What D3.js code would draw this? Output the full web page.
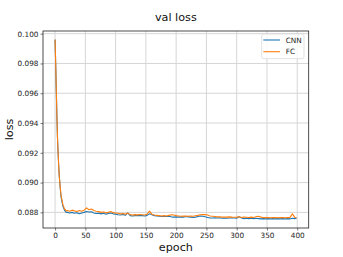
<!DOCTYPE html>
<html>
<head>
<meta charset="utf-8">
<script src="https://cdn.jsdelivr.net/npm/d3@7"></script>
<style>
  body { margin: 0; background: #fff; }
  text { font-family: "DejaVu Sans", sans-serif; }
</style>
</head>
<body>
<div id="chart"></div>
<script>
const width_fig = 343
const height_fig = 257

// epochs
const epochs = [0,1,2,3,4,5,6,7,8,9,10,11,12,13,14,15,16,17,18,19,
  20,24,28,32,36,40,44,48,52,56,60,64,68,72,76,80,84,88,92,96,
  100,104,108,112,116,120,124,128,132,136,140,144,148,152,156,160,164,168,172,176,
  180,184,188,192,196,200,204,208,212,216,220,224,228,232,236,240,244,248,252,256,
  260,264,268,272,276,280,284,288,292,296,300,304,308,312,316,320,324,328,332,336,
  340,344,348,352,356,360,364,368,372,376,380,384,388,392,396,399]

const cnn = [0.0996,0.0980,0.0962,0.0945,0.0930,0.0920,0.0911,0.0904,0.0899,0.0894,
  0.0890,0.0888,0.0886,0.0884,0.0883,0.0882,0.0881,0.0881,0.0880,0.0880,
  0.08800,0.08796,0.08800,0.08794,0.08798,0.08790,0.08796,0.08800,0.08806,0.08802,
  0.08804,0.08796,0.08792,0.08794,0.08790,0.08794,0.08788,0.08792,0.08796,0.08790,
  0.08788,0.08784,0.08782,0.08786,0.08780,0.08796,0.08778,0.08776,0.08778,0.08778,
  0.08780,0.08778,0.08776,0.08780,0.08790,0.08784,0.08778,0.08776,0.08774,0.08772,
  0.08774,0.08772,0.08774,0.08770,0.08768,0.08770,0.08768,0.08770,0.08768,0.08772,
  0.08770,0.08768,0.08766,0.08768,0.08772,0.08776,0.08774,0.08770,0.08766,0.08762,
  0.08762,0.08764,0.08762,0.08764,0.08760,0.08762,0.08760,0.08762,0.08764,0.08762,
  0.08760,0.08770,0.08762,0.08758,0.08760,0.08758,0.08760,0.08758,0.08760,0.08758,
  0.08756,0.08758,0.08756,0.08758,0.08756,0.08758,0.08756,0.08758,0.08756,0.08758,
  0.08756,0.08758,0.08756,0.08760,0.08758,0.08760]

const fc = [0.0996,0.0980,0.0962,0.0945,0.0930,0.0920,0.0911,0.0904,0.0899,0.0895,
  0.0891,0.0889,0.0887,0.0885,0.0884,0.0883,0.0882,0.0882,0.0881,0.0881,
  0.08812,0.08808,0.08815,0.08810,0.08806,0.08812,0.08808,0.08815,0.08830,0.08818,
  0.08822,0.08812,0.08808,0.08805,0.08800,0.08803,0.08798,0.08800,0.08806,0.08798,
  0.08796,0.08794,0.08790,0.08792,0.08788,0.08795,0.08785,0.08782,0.08785,0.08783,
  0.08786,0.08784,0.08782,0.08788,0.08808,0.08786,0.08782,0.08780,0.08778,0.08776,
  0.08778,0.08776,0.08780,0.08784,0.08782,0.08778,0.08776,0.08774,0.08776,0.08775,
  0.08774,0.08776,0.08774,0.08777,0.08780,0.08784,0.08786,0.08785,0.08782,0.08776,
  0.08774,0.08772,0.08770,0.08771,0.08768,0.08769,0.08768,0.08770,0.08768,0.08767,
  0.08768,0.08770,0.08766,0.08768,0.08767,0.08766,0.08768,0.08766,0.08770,0.08774,
  0.08768,0.08765,0.08766,0.08765,0.08764,0.08766,0.08765,0.08764,0.08766,0.08765,
  0.08764,0.08765,0.08766,0.08790,0.08766,0.08764]

const xTicks = [0,50,100,150,200,250,300,350,400]
const yTicks = [0.088,0.090,0.092,0.094,0.096,0.098,0.100]

const series = [
  {name: "CNN", values: cnn, color: "#1f77b4"},
  {name: "FC", values: fc, color: "#ff7f0e"}
]

const margin = {left: 43, right: 343 - 308.7, top: 31, bottom: 257 - 228}

const svg = d3.select("#chart").append("svg")
    .attr("width", width_fig)
    .attr("height", height_fig)

const x = d3.scaleLinear()
    .domain([-19.95, 418.95])
    .range([margin.left, width_fig - margin.right])

const y = d3.scaleLinear()
    .domain([0.08695, 0.10018])
    .range([height_fig - margin.bottom, margin.top])

// grid
const grid = svg.append("g").attr("id", "grid")
grid.selectAll(".gx")
    .data(xTicks)
    .join("line")
    .attr("class", "gx")
    .attr("x1", d => x(d)).attr("x2", d => x(d))
    .attr("y1", margin.top).attr("y2", height_fig - margin.bottom)
    .attr("stroke", "#d6d6d6")
    .attr("stroke-width", 1)
grid.selectAll(".gy")
    .data(yTicks)
    .join("line")
    .attr("class", "gy")
    .attr("x1", margin.left).attr("x2", width_fig - margin.right)
    .attr("y1", d => y(d)).attr("y2", d => y(d))
    .attr("stroke", "#d6d6d6")
    .attr("stroke-width", 1)

// lines
const line = d3.line()
    .x((d, i) => x(epochs[i]))
    .y(d => y(d))

svg.append("g").attr("id", "lines")
    .selectAll("path")
    .data(series)
    .join("path")
    .attr("d", d => line(d.values))
    .attr("fill", "none")
    .attr("stroke", d => d.color)
    .attr("stroke-width", 1.1)
    .attr("stroke-linejoin", "round")

// axes
const xAxis = svg.append("g")
    .attr("transform", `translate(0,${height_fig - margin.bottom})`)
    .call(d3.axisBottom(x).tickValues(xTicks).tickSize(2.5).tickPadding(2).tickFormat(d3.format("d")))
const yAxis = svg.append("g")
    .attr("transform", `translate(${margin.left},0)`)
    .call(d3.axisLeft(y).tickValues(yTicks).tickSize(2.5).tickPadding(2).tickFormat(d3.format(".3f")))

for (const ax of [xAxis, yAxis]) {
    ax.select(".domain").remove()
    ax.selectAll("text")
        .attr("font-family", "DejaVu Sans, sans-serif")
        .attr("font-size", 7.3)
        .attr("fill", "#222")
    ax.selectAll("line").attr("stroke", "#222").attr("stroke-width", 0.6)
}

// frame
svg.append("rect")
    .attr("x", margin.left)
    .attr("y", margin.top)
    .attr("width", width_fig - margin.right - margin.left)
    .attr("height", height_fig - margin.bottom - margin.top)
    .attr("fill", "none")
    .attr("stroke", "#222")
    .attr("stroke-width", 0.8)

// labels
svg.append("text")
    .attr("x", (margin.left + width_fig - margin.right) / 2)
    .attr("y", 21)
    .attr("text-anchor", "middle")
    .attr("font-size", 11.2)
    .attr("fill", "#111")
    .text("val loss")
svg.append("text")
    .attr("x", (margin.left + width_fig - margin.right) / 2)
    .attr("y", 251)
    .attr("text-anchor", "middle")
    .attr("font-size", 11.2)
    .attr("fill", "#111")
    .text("epoch")
svg.append("text")
    .attr("transform", `translate(13,${(margin.top + height_fig - margin.bottom) / 2}) rotate(-90)`)
    .attr("text-anchor", "middle")
    .attr("font-size", 11.2)
    .attr("fill", "#111")
    .text("loss")

// legend
const legend = svg.append("g").attr("transform", "translate(261.7,34)")
legend.append("rect")
    .attr("width", 42.3)
    .attr("height", 24.7)
    .attr("rx", 2)
    .attr("fill", "white")
    .attr("fill-opacity", 0.8)
    .attr("stroke", "#d9d9d9")
    .attr("stroke-width", 0.8)
const items = legend.selectAll(".item")
    .data(series)
    .join("g")
    .attr("class", "item")
    .attr("transform", (d, i) => `translate(0,${6 + i * 11.7})`)
items.append("line")
    .attr("x1", 1.6).attr("x2", 18.3)
    .attr("stroke", d => d.color)
    .attr("stroke-width", 1.1)
items.append("text")
    .attr("x", 24)
    .attr("dy", "0.35em")
    .attr("font-size", 7.3)
    .attr("fill", "#222")
    .text(d => d.name)
</script>
</body>
</html>
